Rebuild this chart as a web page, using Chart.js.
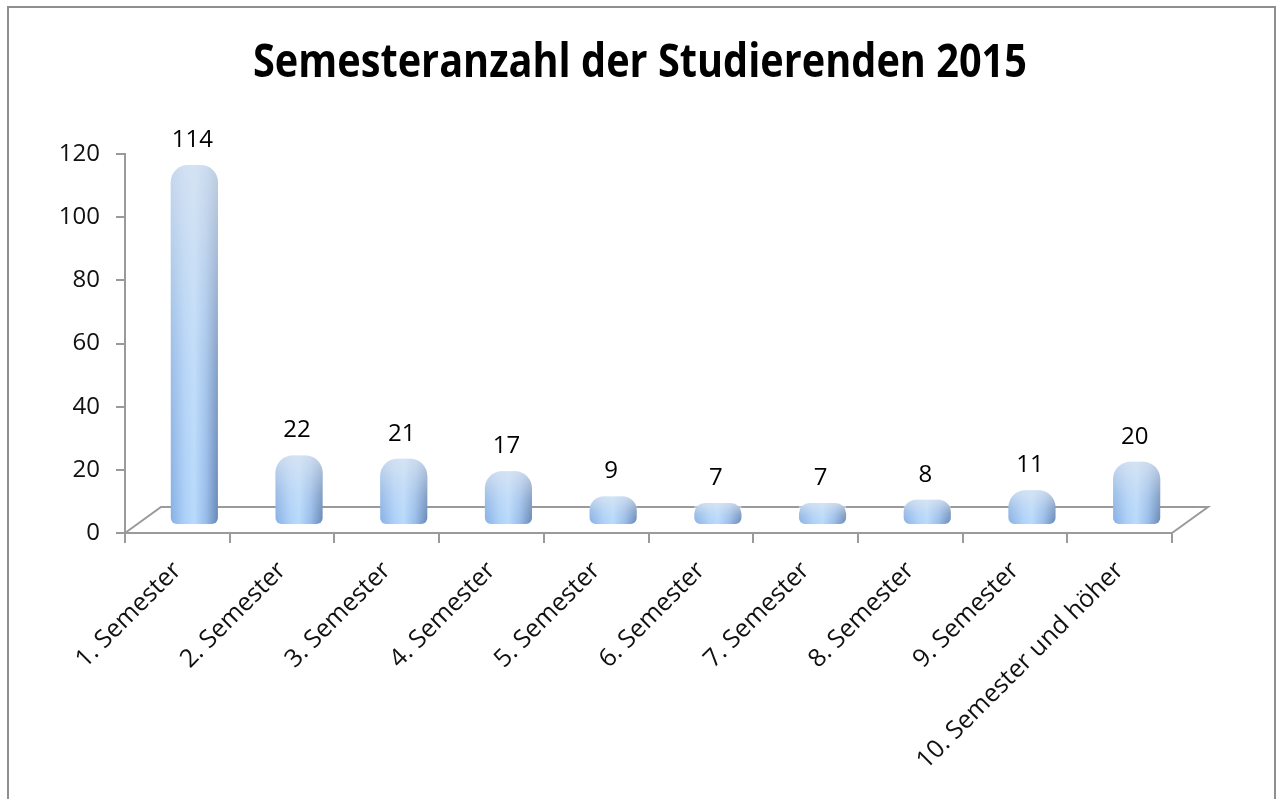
<!DOCTYPE html>
<html>
<head>
<meta charset="utf-8">
<script src="https://cdn.jsdelivr.net/npm/chart.js@4/dist/chart.umd.min.js"></script>
<style>
  html, body { margin: 0; padding: 0; background: #fff; }
  #wrap { position: relative; width: 1277px; height: 799px; }
</style>
</head>
<body>
<div id="wrap"><canvas id="semesterChart"></canvas></div>
<script>
const chartTitle = "Semesteranzahl der Studierenden 2015";
const categories = [
  "1. Semester", "2. Semester", "3. Semester", "4. Semester", "5. Semester",
  "6. Semester", "7. Semester", "8. Semester", "9. Semester", "10. Semester und höher"
];
const students = [114, 22, 21, 17, 9, 7, 7, 8, 11, 20];
const yMin = 0;
const yMax = 120;
const yStep = 20;

// fake 3D depth: bars sit a bit behind the front edge of the floor
const DEPTH_X = 36, DEPTH_Y = 26;
const BAR_SHIFT_X = 17, BAR_SHIFT_Y = -8;
const BAR_PCT = 0.45;

function barFill(context) {
  const chart = context.chart;
  const xs = chart.scales.x;
  if (!chart.chartArea || !xs || context.dataIndex === undefined) return "#a9cdf5";
  const cx = xs.getPixelForValue(context.dataIndex);
  const half = (xs.width / categories.length) * BAR_PCT / 2;
  const g = chart.ctx.createLinearGradient(cx - half, 0, cx + half, 0);
  g.addColorStop(0, "#86b0e4");
  g.addColorStop(0.3, "#acd0f8");
  g.addColorStop(0.5, "#b8dafc");
  g.addColorStop(0.75, "#97bcea");
  g.addColorStop(1, "#6788b6");
  return g;
}

const framePlugin = {
  id: "frame",
  beforeDraw(chart) {
    const ctx = chart.ctx;
    ctx.save();
    ctx.strokeStyle = "#8f8f8f";
    ctx.lineWidth = 2;
    ctx.beginPath();
    ctx.moveTo(8, chart.height);
    ctx.lineTo(8, 7);
    ctx.lineTo(1275, 7);
    ctx.lineTo(1275, chart.height);
    ctx.stroke();
    ctx.restore();
  },
  afterDraw(chart) {
    // title drawn by hand so it is centred on the whole frame, Calibri-like narrow
    const ctx = chart.ctx;
    ctx.save();
    ctx.font = "bold 46px 'Open Sans'";
    ctx.fillStyle = "#000";
    ctx.textAlign = "center";
    ctx.textBaseline = "alphabetic";
    ctx.fillText(chartTitle, 640, 77, 774);
    ctx.restore();
  }
};

const floorPlugin = {
  id: "floor",
  beforeDatasetsDraw(chart) {
    const ctx = chart.ctx;
    const a = chart.chartArea;
    const y0 = chart.scales.y.getPixelForValue(0);
    ctx.save();
    ctx.strokeStyle = "#9a9a9a";
    ctx.lineWidth = 2;
    ctx.beginPath();
    ctx.moveTo(a.left, y0);
    ctx.lineTo(a.left + DEPTH_X, y0 - DEPTH_Y);
    ctx.lineTo(a.right + DEPTH_X, y0 - DEPTH_Y);
    ctx.lineTo(a.right, y0);
    ctx.stroke();
    ctx.restore();
    ctx.save();
    ctx.translate(BAR_SHIFT_X, BAR_SHIFT_Y);
  },
  afterDatasetsDraw(chart) {
    const ctx = chart.ctx;
    const meta = chart.getDatasetMeta(0);
    // grey-white top fading into the blue bottom
    ctx.save();
    ctx.globalCompositeOperation = "source-atop";
    meta.data.forEach(bar => {
      const w = bar.width;
      const g = ctx.createLinearGradient(0, bar.y, 0, bar.base);
      g.addColorStop(0, "rgba(222,230,240,0.75)");
      g.addColorStop(0.55, "rgba(222,230,240,0.25)");
      g.addColorStop(1, "rgba(222,230,240,0)");
      ctx.fillStyle = g;
      ctx.fillRect(bar.x - w / 2, bar.y, w, bar.base - bar.y);
    });
    ctx.restore();
    // value labels
    ctx.save();
    ctx.font = "24px 'Open Sans'";
    ctx.fillStyle = "#000";
    ctx.textAlign = "center";
    ctx.textBaseline = "middle";
    meta.data.forEach((bar, i) => {
      ctx.fillText(String(students[i]), bar.x - 2, bar.y - 25);
    });
    ctx.restore();
    ctx.restore();
  }
};

new Chart("semesterChart", {
  type: "bar",
  data: {
    labels: categories,
    datasets: [{
      label: "Studierende",
      data: students,
      backgroundColor: barFill,
      borderWidth: 0,
      borderSkipped: false,
      borderRadius: { topLeft: 17, topRight: 17, bottomLeft: 6, bottomRight: 6 },
      barPercentage: BAR_PCT,
      categoryPercentage: 1,
      clip: false
    }]
  },
  options: {
    responsive: true,
    maintainAspectRatio: false,
    animation: false,
    layout: { padding: { left: 0, right: 105, top: 154, bottom: 0 } },
    plugins: {
      legend: { display: false },
      tooltip: { enabled: false },
      title: { display: false }
    },
    scales: {
      x: {
        offset: true,
        grid: { display: true, drawOnChartArea: false, offset: true, tickLength: 10, color: "#9a9a9a", lineWidth: 2 },
        border: { display: true, color: "#9a9a9a", width: 2 },
        ticks: {
          autoSkip: false,
          minRotation: 45,
          maxRotation: 45,
          padding: 13,
          color: "#111",
          font: { family: "'Open Sans'", size: 25 }
        },
        afterFit(scale) { scale.height = 266; }
      },
      y: {
        min: yMin,
        max: yMax,
        grid: { display: true, drawOnChartArea: false, tickLength: 9, color: "#9a9a9a", lineWidth: 2 },
        border: { display: true, color: "#9a9a9a", width: 2 },
        ticks: {
          stepSize: yStep,
          padding: 16,
          color: "#111",
          font: { family: "'Open Sans'", size: 24 }
        },
        afterFit(scale) { scale.width = 125; }
      }
    }
  },
  plugins: [framePlugin, floorPlugin]
});
</script>
</body>
</html>
